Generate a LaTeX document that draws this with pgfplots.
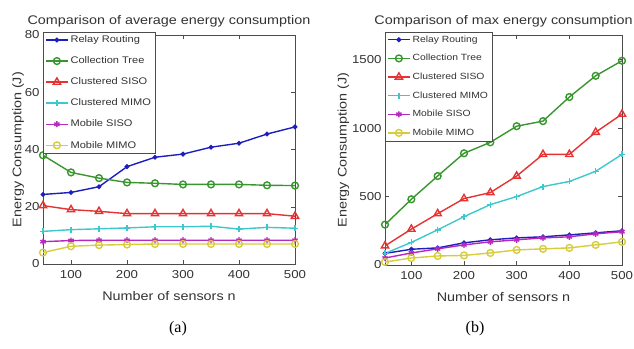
\documentclass[border=0pt]{standalone}
\usepackage{fontspec}
\setmainfont{Liberation Sans}[FakeStretch=1.15]
\newfontfamily\capfont{Liberation Serif}
\usepackage{pgfplots}
\pgfplotsset{compat=1.18}
\definecolor{mb}{RGB}{30,30,190}
\definecolor{mg}{RGB}{55,150,45}
\definecolor{mr}{RGB}{230,50,50}
\definecolor{mc}{RGB}{60,200,205}
\definecolor{mm}{RGB}{185,40,190}
\definecolor{my}{RGB}{215,205,60}
\pgfplotsset{
  common/.style={
    scale only axis,
    xmin=50, xmax=500,
    xtick={100,200,300,400,500},
    tick align=inside,
    xtick pos=both, ytick pos=both,
    major tick length=4pt,
    axis line style={black!70, line width=0.8pt},
    every tick/.style={black!70},
    /pgf/number format/assume math mode=true,
    /pgf/number format/1000 sep={},
    tick label style={font=\fontsize{11.5}{12}\selectfont, text=black!80},
    xticklabel style={yshift=-3pt},
    label style={font=\fontsize{12.5}{13}\selectfont, text=black!80},
    title style={font=\fontsize{12.5}{13}\selectfont, text=black!80, yshift=-2pt},
    legend cell align=left,
    legend image code/.code={\draw[mark repeat=2,mark phase=2,#1] plot coordinates {(0pt,0pt) (11pt,0pt) (22pt,0pt)};},
    every axis plot/.append style={line width=1.4pt},
  },
  s1/.style={mb, mark=*, mark size=1.7pt},
  s2/.style={mg, mark=o, mark size=3.4pt},
  s3/.style={mr, mark=triangle, mark size=4.2pt},
  s4/.style={mc, mark=+, mark size=3pt},
  s5/.style={mm, mark=asterisk, mark size=3pt},
  s6/.style={my, mark=o, mark size=3.4pt},
}
\begin{document}
\begin{tikzpicture}
\path[use as bounding box] (0pt,0pt) rectangle (634pt,-348pt);
\begin{axis}[common,
  at={(43pt,-264pt)}, anchor=south west,
  width=252pt, height=229pt,
  ymin=0, ymax=80, ytick={0,20,40,60,80},
  title={Comparison of average energy consumption},
  xlabel={Number of sensors n},
  ylabel={Energy Consumption (J)},
  ylabel style={yshift=-6pt},
  xlabel style={yshift=-6pt},
  legend style={at={(0,1.015)}, anchor=north west, draw=black!70, font=\fontsize{9.6}{10}\selectfont, row sep=8.6pt, inner sep=2pt, text=black!80},
]
\addplot[s1] coordinates {(50,24.3) (100,25) (150,27) (200,34) (250,37.3) (300,38.4) (350,40.8) (400,42.2) (450,45.4) (500,47.9)};
\addplot[s2] coordinates {(50,38) (100,32) (150,30) (200,28.5) (250,28.2) (300,27.8) (350,27.8) (400,27.8) (450,27.5) (500,27.4)};
\addplot[s3] coordinates {(50,20.4) (100,19) (150,18.4) (200,17.6) (250,17.6) (300,17.6) (350,17.6) (400,17.6) (450,17.6) (500,16.7)};
\addplot[s4] coordinates {(50,11.4) (100,12) (150,12.3) (200,12.6) (250,13) (300,13) (350,13.2) (400,12.2) (450,12.8) (500,12.5)};
\addplot[s5] coordinates {(50,7.8) (100,8.2) (150,8.3) (200,8.3) (250,8.3) (300,8.3) (350,8.3) (400,8.3) (450,8.3) (500,8.3)};
\addplot[s6] coordinates {(50,4) (100,6.2) (150,6.6) (200,6.8) (250,7) (300,7) (350,7) (400,7) (450,7) (500,7)};
\legend{Relay Routing, Collection Tree, Clustered SISO, Clustered MIMO, Mobile SISO, Mobile MIMO}
\end{axis}
\begin{axis}[common,
  at={(385pt,-265pt)}, anchor=south west,
  width=237pt, height=230pt,
  ymin=0, ymax=1680, ytick={0,500,1000,1500},
  title={Comparison of max energy consumption},
  xlabel={Number of sensors n},
  ylabel={Energy Consumption (J)},
  ylabel style={yshift=-4pt},
  xlabel style={yshift=-6pt},
  legend style={at={(0,1.015)}, anchor=north west, draw=black!70, font=\fontsize{9}{10}\selectfont, row sep=6.6pt, inner sep=2pt, text=black!80},
]
\addplot[s1] coordinates {(50,85) (100,115) (150,125) (200,162) (250,184) (300,198) (350,206) (400,220) (450,235) (500,250)};
\addplot[s2] coordinates {(50,295) (100,480) (150,650) (200,816) (250,896) (300,1014) (350,1051) (400,1227) (450,1382) (500,1492)};
\addplot[s3] coordinates {(50,140) (100,262) (150,375) (200,485) (250,529) (300,650) (350,808) (400,808) (450,970) (500,1102)};
\addplot[s4] coordinates {(50,85) (100,165) (150,257) (200,353) (250,441) (300,500) (350,573) (400,610) (450,684) (500,808)};
\addplot[s5] coordinates {(50,51) (100,88) (150,118) (200,147) (250,169) (300,184) (350,198) (400,206) (450,228) (500,243)};
\addplot[s6] coordinates {(50,22) (100,51) (150,66) (200,70) (250,88) (300,110) (350,118) (400,125) (450,147) (500,169)};
\legend{Relay Routing, Collection Tree, Clustered SISO, Clustered MIMO, Mobile SISO, Mobile MIMO}
\end{axis}
\node[font=\capfont\fontsize{16}{17}\selectfont] at (178pt,-329pt) {(a)};
\node[font=\capfont\fontsize{16}{17}\selectfont] at (475pt,-329pt) {(b)};
\end{tikzpicture}
\end{document}
